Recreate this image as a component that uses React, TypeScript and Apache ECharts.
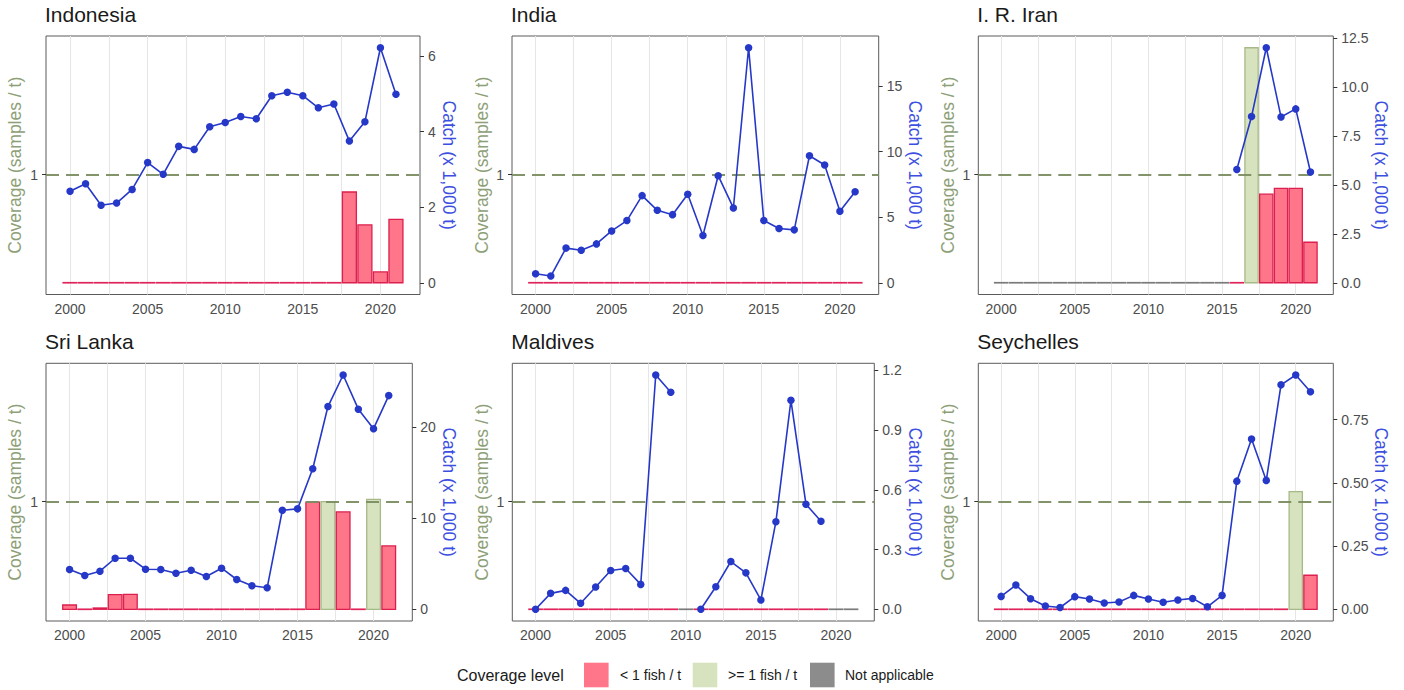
import React, { useEffect, useRef } from "react";
import * as echarts from "echarts";

// ---------------- DATA ----------------
const years = [2000, 2001, 2002, 2003, 2004, 2005, 2006, 2007, 2008, 2009, 2010, 2011, 2012, 2013, 2014, 2015, 2016, 2017, 2018, 2019, 2020, 2021];

const indonesiaCatch = [2.42, 2.62, 2.05, 2.11, 2.47, 3.18, 2.87, 3.61, 3.53, 4.13, 4.24, 4.40, 4.34, 4.95, 5.04, 4.95, 4.63, 4.73, 3.75, 4.26, 6.22, 4.99];
const indonesiaCoverage = [0, 0, 0, 0, 0, 0, 0, 0, 0, 0, 0, 0, 0, 0, 0, 0, 0, 0, 0.84, 0.535, 0.10, 0.587];
const indonesiaLevel = ["L", "L", "L", "L", "L", "L", "L", "L", "L", "L", "L", "L", "L", "L", "L", "L", "L", "L", "L", "L", "L", "L"];
const indonesiaTicks = ["0", "2", "4", "6"];

const indiaCatch = [0.68, 0.51, 2.64, 2.48, 2.96, 3.95, 4.74, 6.64, 5.52, 5.19, 6.74, 3.60, 8.16, 5.70, 17.91, 4.74, 4.13, 4.03, 9.68, 8.97, 5.45, 6.94];
const indiaCoverage = [0, 0, 0, 0, 0, 0, 0, 0, 0, 0, 0, 0, 0, 0, 0, 0, 0, 0, 0, 0, 0, 0];
const indiaLevel = ["L", "L", "L", "L", "L", "L", "L", "L", "L", "L", "L", "L", "L", "L", "L", "L", "L", "L", "L", "L", "L", "L"];
const indiaTicks = ["0", "5", "10", "15"];

const iranCatch = [null, null, null, null, null, null, null, null, null, null, null, null, null, null, null, null, 5.78, 8.48, 11.99, 8.46, 8.87, 5.65];
const iranCoverage = [0, 0, 0, 0, 0, 0, 0, 0, 0, 0, 0, 0, 0, 0, 0, 0, 0, 2.175, 0.82, 0.874, 0.874, 0.375];
const iranLevel = ["N", "N", "N", "N", "N", "N", "N", "N", "N", "N", "N", "N", "N", "N", "N", "N", "L", "G", "L", "L", "L", "L"];
const iranTicks = ["0.0", "2.5", "5.0", "7.5", "10.0", "12.5"];

const sriLankaCatch = [4.36, 3.71, 4.18, 5.60, 5.60, 4.40, 4.36, 3.96, 4.29, 3.60, 4.51, 3.27, 2.58, 2.36, 10.87, 11.02, 15.42, 22.25, 25.71, 21.96, 19.82, 23.45];
const sriLankaCoverage = [0.04, 0, 0.012, 0.136, 0.139, 0, 0, 0, 0, 0, 0, 0, 0, 0, 0, 0, 0.994, 1.0, 0.904, 0, 1.02, 0.588];
const sriLankaLevel = ["L", "L", "L", "L", "L", "L", "L", "L", "L", "L", "L", "L", "L", "L", "L", "L", "L", "G", "L", "L", "G", "L"];
const sriLankaTicks = ["0", "10", "20"];

const maldivesCatch = [0.0, 0.08, 0.095, 0.03, 0.112, 0.195, 0.205, 0.125, 1.177, 1.09, null, 0.0, 0.113, 0.24, 0.183, 0.047, 0.44, 1.05, 0.528, 0.442, null, null];
const maldivesCoverage = [0, 0, 0, 0, 0, 0, 0, 0, 0, 0, 0, 0, 0, 0, 0, 0, 0, 0, 0, 0, 0, 0];
const maldivesLevel = ["L", "L", "L", "L", "L", "L", "L", "L", "L", "L", "N", "L", "L", "L", "L", "L", "L", "L", "L", "L", "N", "N"];
const maldivesTicks = ["0.0", "0.3", "0.6", "0.9", "1.2"];

const seychellesCatch = [0.051, 0.096, 0.042, 0.013, 0.007, 0.050, 0.041, 0.025, 0.029, 0.055, 0.041, 0.028, 0.037, 0.043, 0.010, 0.055, 0.507, 0.674, 0.510, 0.888, 0.927, 0.861];
const seychellesCoverage = [0, 0, 0, 0, 0, 0, 0, 0, 0, 0, 0, 0, 0, 0, 0, 0, 0, 0, 0, 0, 1.093, 0.316];
const seychellesLevel = ["L", "L", "L", "L", "L", "L", "L", "L", "L", "L", "L", "L", "L", "L", "L", "L", "L", "L", "L", "L", "G", "L"];
const seychellesTicks = ["0.00", "0.25", "0.50", "0.75"];

const yearTicks = [2000, 2005, 2010, 2015, 2020];
const gridYears = [2000, 2002.5, 2005, 2007.5, 2010, 2012.5, 2015, 2017.5, 2020];
const coverageTicks = [1];

const levelCodes = ["L", "G", "N"];
const levelNames = ["< 1 fish / t", ">= 1 fish / t", "Not applicable"];

const panels = [
  { title: "Indonesia", catchData: indonesiaCatch, coverage: indonesiaCoverage, level: indonesiaLevel, ticks: indonesiaTicks },
  { title: "India", catchData: indiaCatch, coverage: indiaCoverage, level: indiaLevel, ticks: indiaTicks },
  { title: "I. R. Iran", catchData: iranCatch, coverage: iranCoverage, level: iranLevel, ticks: iranTicks },
  { title: "Sri Lanka", catchData: sriLankaCatch, coverage: sriLankaCoverage, level: sriLankaLevel, ticks: sriLankaTicks },
  { title: "Maldives", catchData: maldivesCatch, coverage: maldivesCoverage, level: maldivesLevel, ticks: maldivesTicks },
  { title: "Seychelles", catchData: seychellesCatch, coverage: seychellesCoverage, level: seychellesLevel, ticks: seychellesTicks },
];

// ---------------- LAYOUT / STYLE ----------------
const layout = [
  { left: 46, top: 36, width: 374, height: 258.5, titleTop: 4, leftGap: 22, rightGap: 17 },
  { left: 512, top: 36, width: 366.7, height: 258.5, titleTop: 4, leftGap: 21.5, rightGap: 24.5 },
  { left: 978.3, top: 36, width: 355, height: 258.5, titleTop: 4, leftGap: 21.5, rightGap: 36 },
  { left: 46, top: 363.3, width: 366.3, height: 257.7, titleTop: 331, leftGap: 22, rightGap: 24.5 },
  { left: 512.3, top: 363.3, width: 362, height: 257.7, titleTop: 331, leftGap: 21.5, rightGap: 29 },
  { left: 978.3, top: 363.3, width: 355, height: 257.7, titleTop: 331, leftGap: 21.5, rightGap: 36 },
];

const FONT = '"Liberation Sans", Arial, Helvetica, sans-serif';
const LEVEL_STYLE: Record<string, { fill: string; stroke: string; line: string }> = {
  L: { fill: "#FF7589", stroke: "#DC1F4E", line: "#E0245A" },
  G: { fill: "#D6E3BE", stroke: "#A7B988", line: "#A7B988" },
  N: { fill: "#8C8C8C", stroke: "#7F7F7F", line: "#7A7A7A" },
};
const TICK_COLOR = "#4D4D4D";
const AXIS_COLOR = "#333333";
const OLIVE = "#8E9F78";
const BLUE_NAME = "#3D4FE0";
const BLUE = "#2638C8";

function buildOption() {
  const covAll = ([] as number[]).concat(...panels.map((p) => p.coverage));
  const covTop = Math.max(...covAll);
  const covMin = -0.05 * covTop;
  const covMax = 1.05 * covTop;

  const grid: any[] = [];
  const xAxis: any[] = [];
  const yAxis: any[] = [];
  const series: any[] = [];
  const title: any[] = [];

  panels.forEach((p, i) => {
    const L = layout[i];
    grid.push({
      left: L.left,
      top: L.top,
      width: L.width,
      height: L.height,
      show: true,
      borderColor: "#5a5a5a",
      borderWidth: 1,
      backgroundColor: "transparent",
      outerBoundsMode: "none",
    });
    title.push({
      text: p.title,
      left: L.left - 1,
      top: L.titleTop,
      padding: 0,
      textStyle: { fontFamily: FONT, fontSize: 21, fontWeight: "normal", color: "#1A1A1A" },
    });
    xAxis.push({
      gridIndex: i,
      type: "value",
      min: 1998.45,
      max: 2022.55,
      axisLine: { show: false },
      axisTick: { show: true, customValues: yearTicks, length: 4, lineStyle: { color: AXIS_COLOR } },
      axisLabel: {
        customValues: yearTicks,
        color: TICK_COLOR,
        fontFamily: FONT,
        fontSize: 14,
        margin: 7,
        formatter: (v: number) => String(v),
      },
      splitLine: { show: false },
    });
    // coverage (left)
    yAxis.push({
      gridIndex: i,
      type: "value",
      position: "left",
      min: covMin,
      max: covMax,
      axisLine: { show: false },
      axisTick: { show: true, customValues: coverageTicks, length: 4, lineStyle: { color: AXIS_COLOR } },
      axisLabel: { customValues: coverageTicks, color: TICK_COLOR, fontFamily: FONT, fontSize: 14, margin: 8 },
      splitLine: { show: false },
      name: "Coverage (samples / t)",
      nameLocation: "middle",
      nameRotate: 90,
      nameGap: L.leftGap,
      nameTextStyle: { color: OLIVE, fontFamily: FONT, fontSize: 17.5 },
    });
    // catch (right)
    const vals = p.catchData.filter((v) => v !== null) as number[];
    const cMax = Math.max(...vals);
    const tickVals = p.ticks.map((t) => parseFloat(t));
    yAxis.push({
      gridIndex: i,
      type: "value",
      position: "right",
      min: -0.05 * cMax,
      max: 1.05 * cMax,
      axisLine: { show: false },
      axisTick: { show: true, customValues: tickVals, length: 4, lineStyle: { color: AXIS_COLOR } },
      axisLabel: {
        customValues: tickVals,
        color: TICK_COLOR,
        fontFamily: FONT,
        fontSize: 14,
        margin: 8,
        formatter: (v: number) => {
          const k = tickVals.findIndex((t) => Math.abs(t - v) < 1e-9);
          return k >= 0 ? p.ticks[k] : "";
        },
      },
      splitLine: { show: false },
      name: "Catch (x 1,000 t)",
      nameLocation: "middle",
      nameRotate: -90,
      nameGap: L.rightGap,
      nameTextStyle: { color: BLUE_NAME, fontFamily: FONT, fontSize: 17.5 },
    });

    // coverage bars
    series.push({
      type: "custom",
      name: "coverage-" + p.title,
      xAxisIndex: i,
      yAxisIndex: 2 * i,
      z: 2,
      clip: false,
      encode: { x: 0, y: 1 },
      data: years.map((y, k) => [y, p.coverage[k], levelCodes.indexOf(p.level[k])]),
      renderItem: (params: any, api: any) => {
        const x = api.value(0) as number;
        const v = api.value(1) as number;
        const lv = levelCodes[api.value(2) as number];
        const st = LEVEL_STYLE[lv];
        if (!(v > 0)) {
          const c0 = api.coord([x - 0.49, 0]);
          const c1 = api.coord([x + 0.49, 0]);
          return {
            type: "line",
            shape: { x1: c0[0], y1: c0[1], x2: c1[0], y2: c1[1] },
            style: { stroke: st.line, lineWidth: 1.7 },
          };
        }
        const a = api.coord([x - 0.45, v]);
        const b = api.coord([x + 0.45, 0]);
        return {
          type: "rect",
          shape: { x: a[0], y: a[1], width: b[0] - a[0], height: b[1] - a[1] },
          style: { fill: st.fill, stroke: st.stroke, lineWidth: 1.3 },
        };
      },
      markLine: {
        silent: true,
        z: 3,
        symbol: "none",
        label: { show: false },
        lineStyle: { color: "#7C8D62", width: 2.2, type: [13, 7], opacity: 0.95 },
        data: [{ yAxis: 1 }],
      },
    });

    // catch line
    series.push({
      type: "line",
      name: "catch-" + p.title,
      xAxisIndex: i,
      yAxisIndex: 2 * i + 1,
      z: 4,
      symbol: "circle",
      symbolSize: 7.5,
      connectNulls: false,
      itemStyle: { color: BLUE, borderWidth: 0 },
      lineStyle: { color: BLUE, width: 1.6 },
      data: years.map((y, k) => [y, p.catchData[k] === null ? "-" : p.catchData[k]]),
      markLine: {
        silent: true,
        z: 1,
        symbol: "none",
        label: { show: false },
        lineStyle: { color: "#E6E6E6", width: 1, type: "solid" },
        data: gridYears.map((g) => ({ xAxis: g })),
      },
    });
  });

  // legend (drawn as graphic)
  const legendY = 675;
  const keyColors = [LEVEL_STYLE.L.fill, LEVEL_STYLE.G.fill, LEVEL_STYLE.N.fill];
  const keyX = [584, 692.7, 810];
  const textX = [620, 728, 845];
  const graphic: any[] = [
    {
      type: "text",
      x: 457,
      y: legendY,
      style: { text: "Coverage level", fontFamily: FONT, fontSize: 16, fill: "#1A1A1A", verticalAlign: "middle", align: "left" },
    },
  ];
  levelNames.forEach((n, k) => {
    graphic.push({
      type: "rect",
      shape: { x: keyX[k], y: legendY - 12.3, width: 24.6, height: 24.6 },
      style: { fill: keyColors[k] },
    });
    graphic.push({
      type: "text",
      x: textX[k],
      y: legendY,
      style: { text: n, fontFamily: FONT, fontSize: 14, fill: "#1A1A1A", verticalAlign: "middle", align: "left" },
    });
  });

  return {
    animation: false,
    backgroundColor: "#FFFFFF",
    textStyle: { fontFamily: FONT },
    title,
    grid,
    xAxis,
    yAxis,
    series,
    graphic,
  };
}

export default function App() {
  const ref = useRef<HTMLDivElement>(null);
  useEffect(() => {
    document.body.style.margin = "0";
    if (!ref.current) return;
    const chart = echarts.init(ref.current, null, { renderer: "svg" });
    chart.setOption(buildOption() as any);
    return () => chart.dispose();
  }, []);
  return <div ref={ref} style={{ width: 1404, height: 690, background: "#fff" }} />;
}
